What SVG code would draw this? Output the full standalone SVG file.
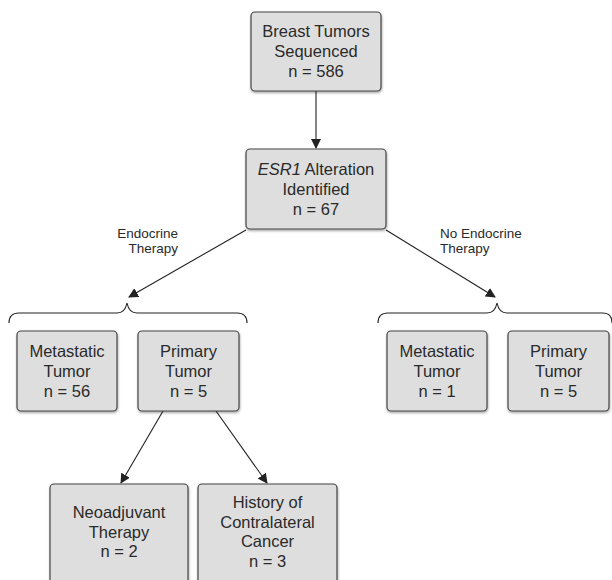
<svg xmlns="http://www.w3.org/2000/svg" width="612" height="580" viewBox="0 0 612 580">
<defs>
<marker id="ah" markerWidth="10" markerHeight="10" refX="9" refY="5" orient="auto" markerUnits="userSpaceOnUse">
<path d="M0,0 L10,5 L0,10 z" fill="#222"/>
</marker>
<filter id="sh" x="-10%" y="-10%" width="130%" height="130%">
<feDropShadow dx="0.5" dy="1.5" stdDeviation="1" flood-color="#000" flood-opacity="0.35"/>
</filter>
</defs>
<style>
.box{fill:#dedede;stroke:#444;stroke-width:1.2;filter:url(#sh)}
.t{font-family:"Helvetica Neue","Liberation Sans",Arial,sans-serif;font-size:16.5px;fill:#2a2a2a;text-anchor:middle}
.lbl{font-family:"Helvetica Neue","Liberation Sans",Arial,sans-serif;font-size:13.5px;fill:#2a2a2a}
.c{fill:none;stroke:#222;stroke-width:1.1}
</style>
<rect width="612" height="580" fill="#fff"/>
<g id="connectors">
<line class="c" x1="316" y1="91" x2="316" y2="148" marker-end="url(#ah)"/>
<line class="c" x1="246" y1="230" x2="129" y2="297" marker-end="url(#ah)"/>
<line class="c" x1="386" y1="230" x2="495" y2="297" marker-end="url(#ah)"/>
<line class="c" x1="163" y1="411" x2="121" y2="483" marker-end="url(#ah)"/>
<line class="c" x1="216" y1="411" x2="267" y2="483" marker-end="url(#ah)"/>
<path class="c" d="M9,323 Q9,313 19,313 L117,313 Q125,313 127,303 Q129,313 137,313 L237,313 Q247,313 247,323"/>
<path class="c" d="M378,323 Q378,313 388,313 L487,313 Q495,313 497,303 Q499,313 507,313 L603,313 Q612,313 612,323"/>
</g>
<g id="label-endocrine">
<text class="lbl" x="178" y="238" text-anchor="end">Endocrine</text>
<text class="lbl" x="178" y="253" text-anchor="end">Therapy</text>
</g>
<g id="label-no-endocrine">
<text class="lbl" x="440" y="238">No Endocrine</text>
<text class="lbl" x="440" y="253">Therapy</text>
</g>
<g id="n-sequenced">
<rect class="box" x="251" y="12" width="130" height="79" rx="4"/>
<text class="t" x="316" y="37">Breast Tumors</text>
<text class="t" x="316" y="57">Sequenced</text>
<text class="t" x="316" y="77">n = 586</text>
</g>
<g id="n-esr1">
<rect class="box" x="246" y="149" width="140" height="80" rx="4"/>
<text class="t" x="316" y="175"><tspan font-style="italic">ESR1</tspan> Alteration</text>
<text class="t" x="316" y="195">Identified</text>
<text class="t" x="316" y="215">n = 67</text>
</g>
<g id="n-met-endo">
<rect class="box" x="17" y="331" width="100" height="80" rx="4"/>
<text class="t" x="67" y="357">Metastatic</text>
<text class="t" x="67" y="377">Tumor</text>
<text class="t" x="67" y="397">n = 56</text>
</g>
<g id="n-prim-endo">
<rect class="box" x="138" y="331" width="101" height="80" rx="4"/>
<text class="t" x="188.5" y="357">Primary</text>
<text class="t" x="188.5" y="377">Tumor</text>
<text class="t" x="188.5" y="397">n = 5</text>
</g>
<g id="n-met-noendo">
<rect class="box" x="387" y="331" width="100" height="80" rx="4"/>
<text class="t" x="437" y="357">Metastatic</text>
<text class="t" x="437" y="377">Tumor</text>
<text class="t" x="437" y="397">n = 1</text>
</g>
<g id="n-prim-noendo">
<rect class="box" x="508" y="331" width="101" height="80" rx="4"/>
<text class="t" x="558.5" y="357">Primary</text>
<text class="t" x="558.5" y="377">Tumor</text>
<text class="t" x="558.5" y="397">n = 5</text>
</g>
<g id="n-neoadjuvant">
<rect class="box" x="50" y="484" width="138" height="110" rx="4"/>
<text class="t" x="119" y="518">Neoadjuvant</text>
<text class="t" x="119" y="538">Therapy</text>
<text class="t" x="119" y="557">n = 2</text>
</g>
<g id="n-history">
<rect class="box" x="198" y="484" width="139" height="110" rx="4"/>
<text class="t" x="267.5" y="508">History of</text>
<text class="t" x="267.5" y="528">Contralateral</text>
<text class="t" x="267.5" y="547">Cancer</text>
<text class="t" x="267.5" y="567">n = 3</text>
</g>
</svg>
